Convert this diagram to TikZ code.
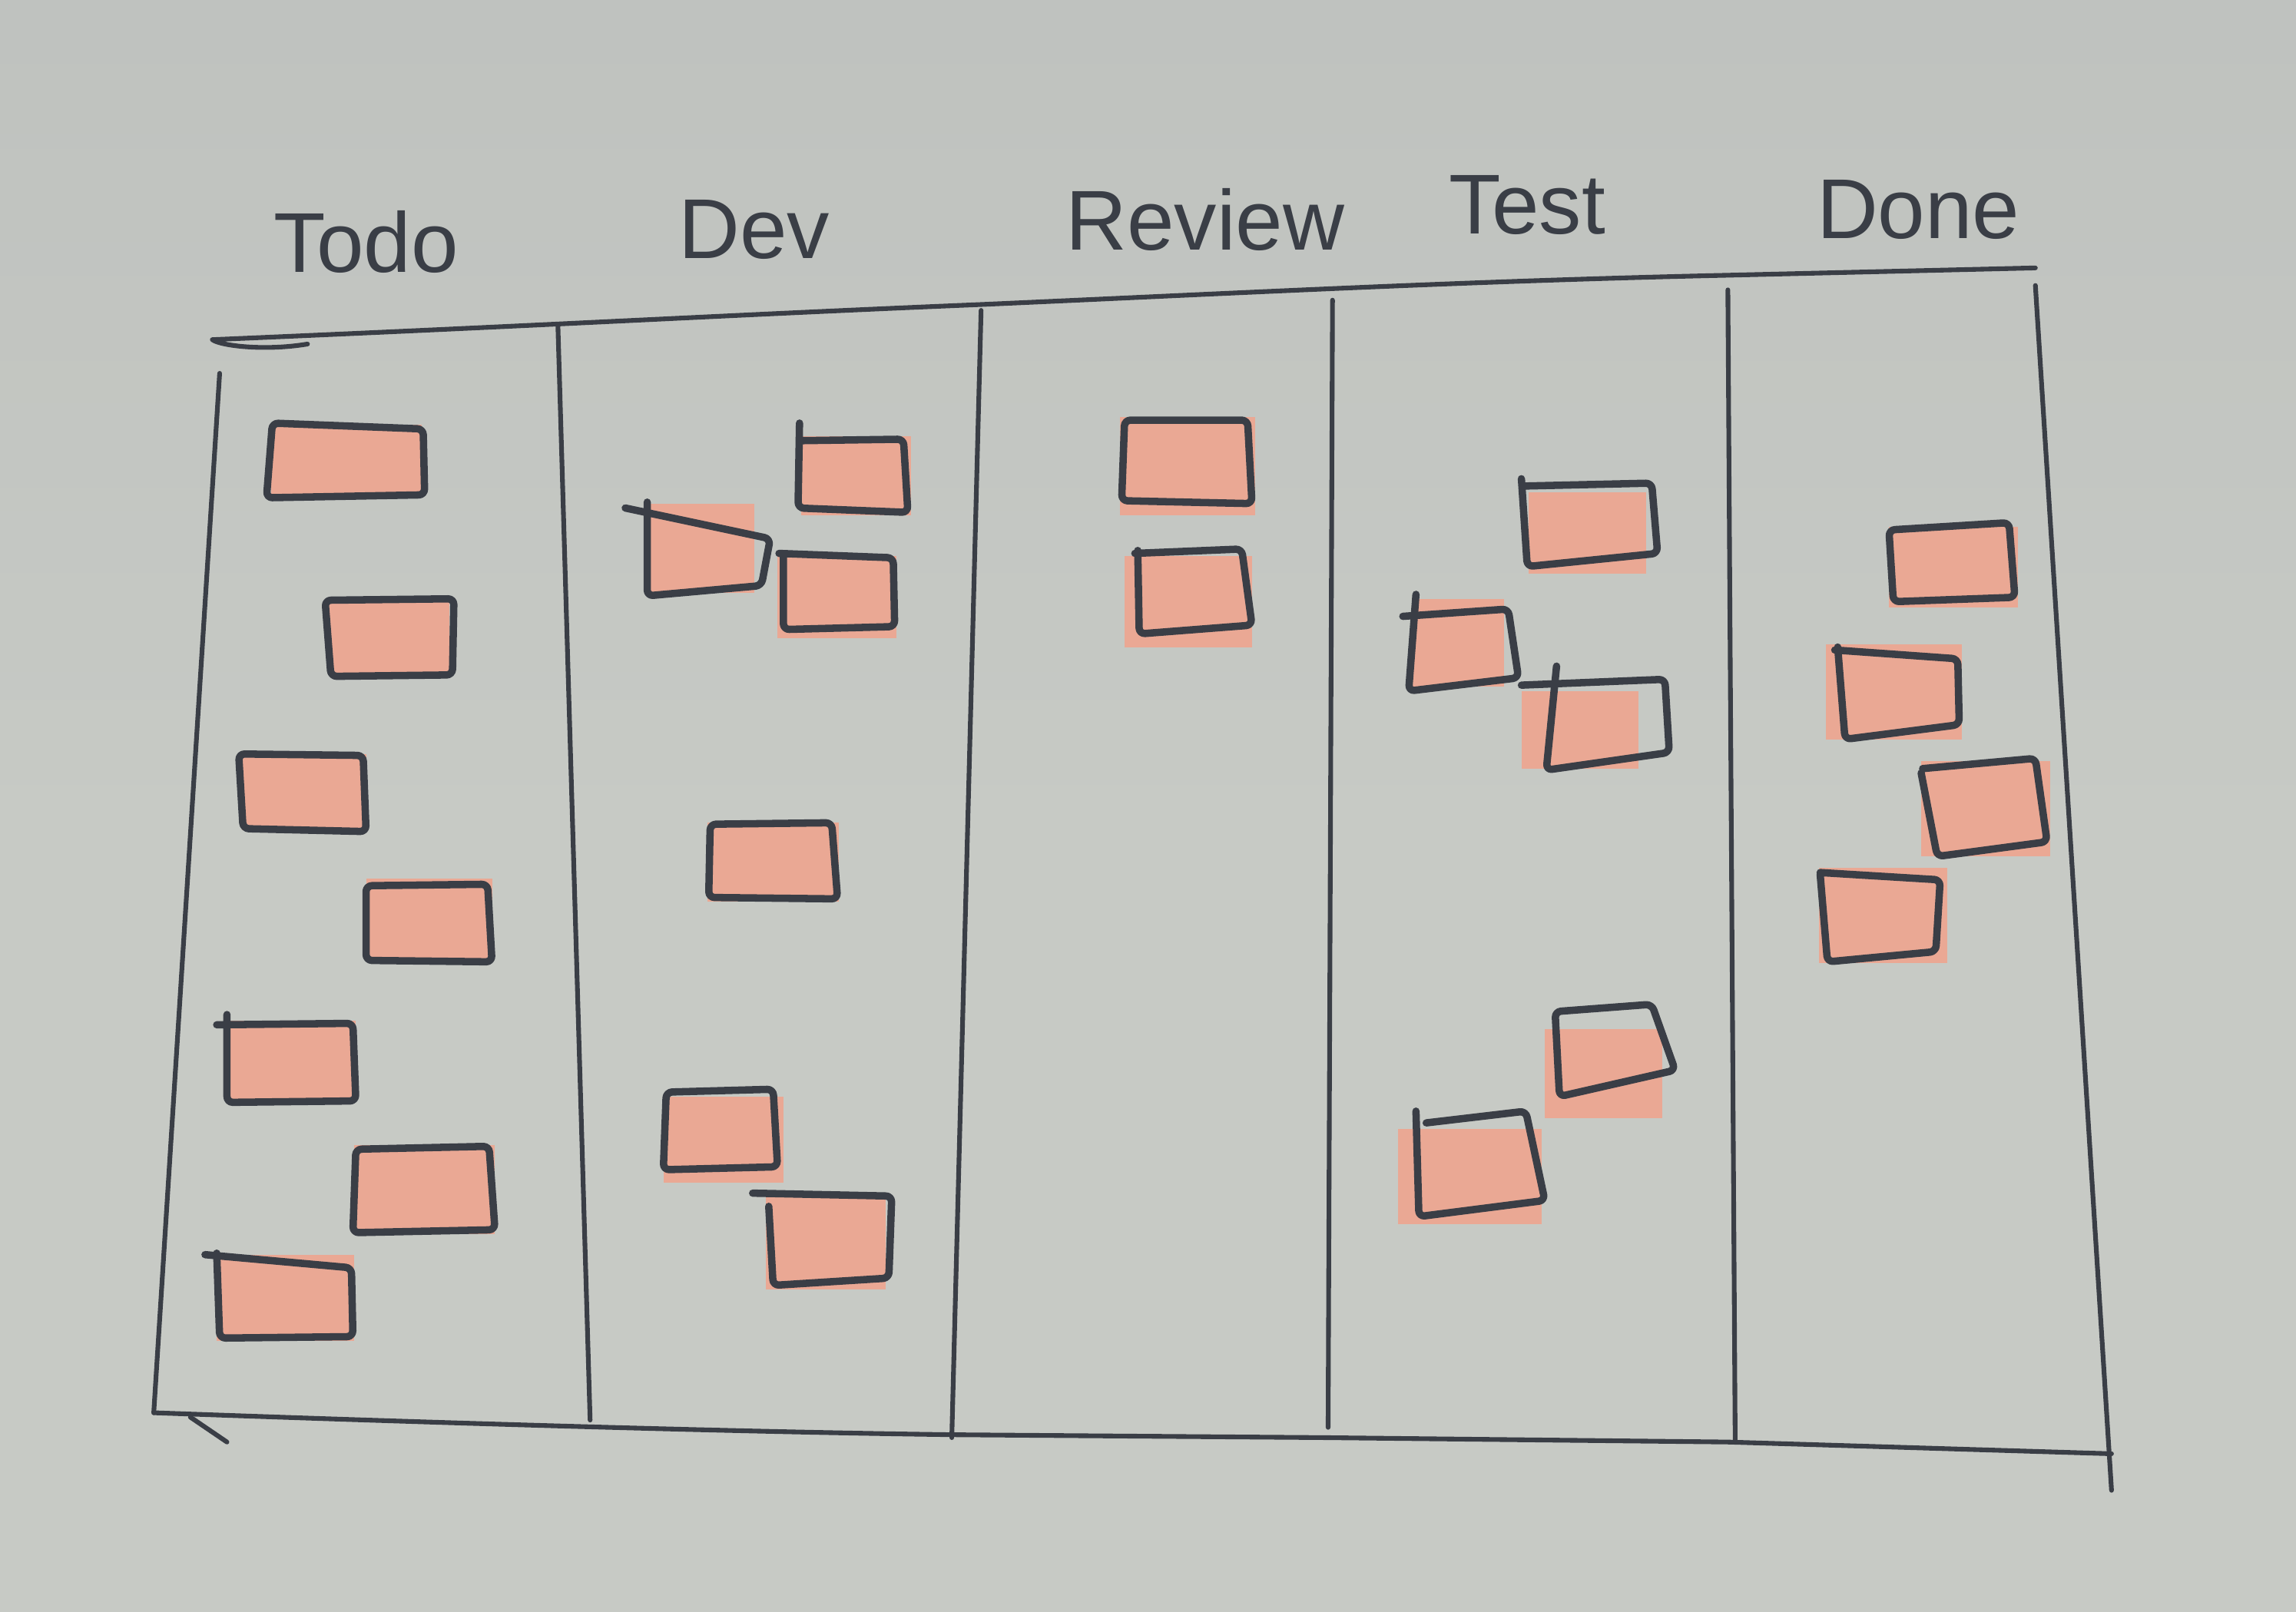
\documentclass[tikz,border=0pt]{standalone}
\usepackage{fontspec}
\setmainfont{Liberation Sans}
\definecolor{paper}{RGB}{199,202,197}
\definecolor{paperdark}{RGB}{180,183,182}
\definecolor{ink}{RGB}{58,62,70}
\definecolor{notefill}{RGB}{234,168,148}
\tikzset{
  board/.style={draw=ink, line width=3.2pt, line cap=round, line join=round},
  notepen/.style={draw=ink, line width=5pt, line cap=round, line join=round, rounded corners=4pt},
  notebg/.style={fill=notefill},
  header/.style={text=ink, font=\fontsize{58}{58}\selectfont, inner sep=0pt}
}
\begin{document}
\begin{tikzpicture}[x=1pt,y=-1pt]
\useasboundingbox (0,0) rectangle (1568,1101);
\shade[top color=paperdark, bottom color=paper, middle color=paper] (0,0) rectangle (1568,1101);
\fill[paper, opacity=0.6] (0,0) rectangle (1568,1101);

% headers
\node[header] (todo) at (250,165) {Todo};
\node[header] (dev) at (515,157) {Dev};
\node[header] (review) at (823,150) {Review};
\node[header] (test) at (1043,140) {Test};
\node[header] (done) at (1310,143) {Done};

% board frame
\draw[board] (210,235) .. controls (180,240) and (150,236) .. (145,232)
  .. controls (380,222) and (500,215) .. (670,208)
  .. controls (850,200) and (1000,192) .. (1180,188)
  -- (1390,183);
\draw[board] (150,255) -- (105,965);
\draw[board] (105,965) .. controls (300,972) and (500,978) .. (650,980)
  -- (905,982) -- (1180,985) -- (1442,993);
\draw[board] (130,968) -- (155,985);
\draw[board] (1390,195) -- (1442,1018);
\draw[board] (381,222) -- (403,970);
\draw[board] (670,212) -- (650,982);
\draw[board] (910,205) -- (907,975);
\draw[board] (1180,198) -- (1185,985);

% Todo notes
\fill[notebg] (185,290) rectangle (288,338);
\draw[notepen] (186,289) -- (289,293) -- (290,338) -- (182,340) -- cycle;
\fill[notebg] (224,410) rectangle (307,460);
\draw[notepen] (222,410) -- (310,409) -- (309,461) -- (226,462) -- cycle;
\fill[notebg] (165,515) rectangle (250,567);
\draw[notepen] (163,515) -- (248,516) -- (250,568) -- (166,566) -- cycle;
\fill[notebg] (250,600) rectangle (336,657);
\draw[notepen] (250,605) -- (333,604) -- (336,657) -- (250,656) -- cycle;
\fill[notebg] (155,697) rectangle (243,753);
\draw[notepen] (148,700) -- (241,699) -- (243,752) -- (155,753) -- (155,693);
\fill[notebg] (242,782) rectangle (338,843);
\draw[notepen] (243,785) -- (334,783) -- (338,840) -- (241,842) -- cycle;
\fill[notebg] (148,857) rectangle (242,916);
\draw[notepen] (140,857) -- (240,866) -- (241,913) -- (150,914) -- (148,856);

% Dev notes
\fill[notebg] (547,298) rectangle (622,352);
\draw[notepen] (546,289) -- (545,347) -- (620,350) -- (617,300) -- (547,301);
\fill[notebg] (444,344) rectangle (515,405);
\draw[notepen] (427,347) -- (526,368) -- (520,400) -- (442,407) -- (442,343);
\fill[notebg] (531,380) rectangle (612,436);
\draw[notepen] (532,378) -- (610,381) -- (611,428) -- (535,430) -- (535,380);
\fill[notebg] (483,562) rectangle (573,616);
\draw[notepen] (485,563) -- (568,562) -- (572,614) -- (484,613) -- cycle;
\fill[notebg] (453,749) rectangle (535,808);
\draw[notepen] (455,746) -- (528,744) -- (531,797) -- (453,799) -- cycle;
\fill[notebg] (523,818) rectangle (605,881);
\draw[notepen] (514,815) -- (609,817) -- (607,873) -- (528,878) -- (525,824);

% Review notes
\fill[notebg] (765,285) rectangle (857,352);
\draw[notepen] (768,287) -- (852,287) -- (855,344) -- (766,342) -- cycle;
\fill[notebg] (768,380) rectangle (855,442);
\draw[notepen] (775,378) -- (848,375) -- (855,427) -- (778,433) -- (777,376);

% Test notes
\fill[notebg] (1044,336) rectangle (1124,392);
\draw[notepen] (1039,327) -- (1043,387) -- (1132,378) -- (1128,330) -- (1041,332);
\fill[notebg] (964,409) rectangle (1027,469);
\draw[notepen] (967,406) -- (962,472) -- (1037,463) -- (1030,416) -- (958,421);
\fill[notebg] (1039,472) rectangle (1119,525);
\draw[notepen] (1063,455) -- (1056,526) -- (1140,514) -- (1137,464) -- (1039,468);
\fill[notebg] (1055,703) rectangle (1135,764);
\draw[notepen] (1062,691) -- (1065,749) -- (1144,731) -- (1128,686) -- cycle;
\fill[notebg] (955,771) rectangle (1053,836);
\draw[notepen] (967,759) -- (969,831) -- (1055,820) -- (1042,759) -- (974,767);

% Done notes
\fill[notebg] (1290,360) rectangle (1378,415);
\draw[notepen] (1290,362) -- (1372,357) -- (1376,408) -- (1293,411) -- cycle;
\fill[notebg] (1247,440) rectangle (1340,505);
\draw[notepen] (1253,444) -- (1337,450) -- (1338,495) -- (1260,505) -- (1255,442);
\fill[notebg] (1312,520) rectangle (1400,585);
\draw[notepen] (1313,525) -- (1390,518) -- (1398,575) -- (1323,585) -- (1312,528);
\fill[notebg] (1242,593) rectangle (1330,658);
\draw[notepen] (1243,596) -- (1325,601) -- (1322,650) -- (1248,657) -- (1243,597);
\end{tikzpicture}
\end{document}
